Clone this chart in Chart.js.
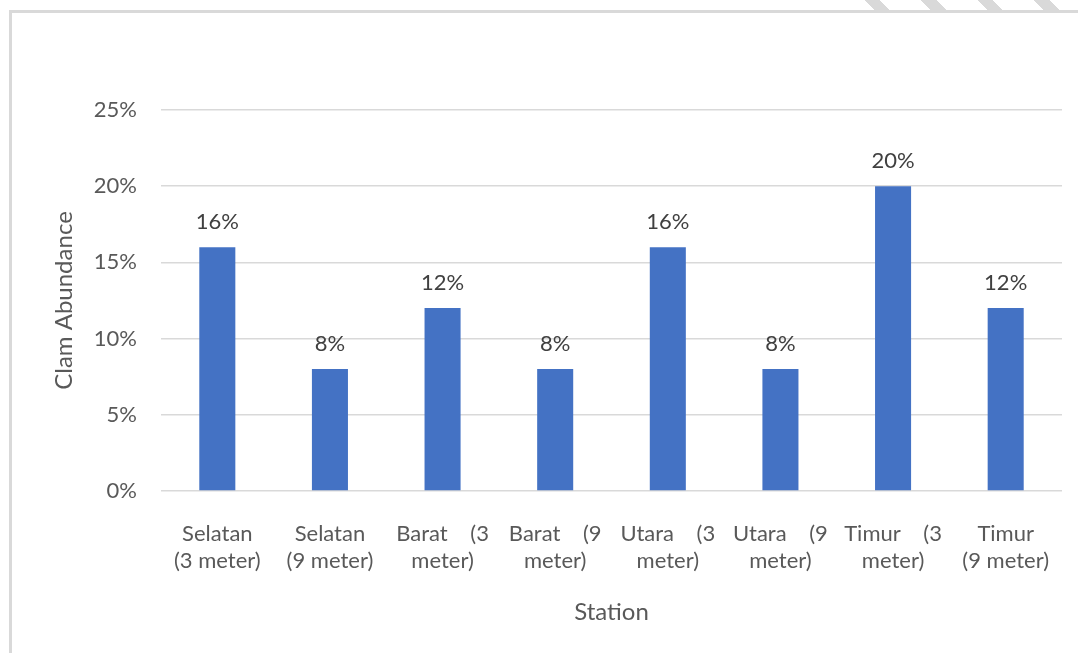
<!DOCTYPE html>
<html>
<head>
<meta charset="utf-8">
<title>Clam Abundance per Station</title>
<script src="https://cdn.jsdelivr.net/npm/chart.js@4"></script>
<style>
  html, body { margin: 0; padding: 0; background: #fff; }
  #wrap { position: relative; width: 1078px; height: 653px; overflow: hidden; }
  #frame { position: absolute; left: 9px; top: 10px; right: -5px; bottom: -5px;
           border-left: 3px solid #d9d9d9; border-top: 3px solid #d9d9d9; }
  #stripes { position: absolute; left: 860px; top: 0; width: 218px; height: 10px;
             background: repeating-linear-gradient(45deg, transparent 0 10px, #d9d9d9 10px 21px, transparent 21px 40px); }
  canvas { position: absolute; left: 0; top: 0; }
</style>
</head>
<body>
<div id="wrap">
  <div id="stripes"></div>
  <div id="frame"></div>
  <canvas id="myChart" width="1078" height="653"></canvas>
</div>
<script>
'use strict';

// station names, already split the way the original wraps them
let stations = [
  ['Selatan', '(3 meter)'],
  ['Selatan', '(9 meter)'],
  ['Barat (3', 'meter)'],
  ['Barat (9', 'meter)'],
  ['Utara (3', 'meter)'],
  ['Utara (9', 'meter)'],
  ['Timur (3', 'meter)'],
  ['Timur', '(9 meter)']
];
let abundance = [16, 8, 12, 8, 16, 8, 20, 12];
let yTicks = [0, 5, 10, 15, 20, 25];

let fontFamily = 'Lato, "Open Sans", sans-serif';
let tickFont = { family: fontFamily, size: 22 };
let titleFont = { family: fontFamily, size: 24 };

// stretch a multi word first line out to the column width (like justified text)
let measureCtx = document.createElement('canvas').getContext('2d');
function justify(line, width) {
  let words = line.split(' ');
  if (words.length < 2) return line;
  measureCtx.font = tickFont.size + 'px ' + fontFamily;
  let gap = ' ';
  while (measureCtx.measureText(words.join(gap + ' ')).width < width) {
    gap += ' ';
  }
  return words.join(gap);
}

// percent labels above each bar
let barLabels = {
  id: 'barLabels',
  afterDatasetsDraw(chart) {
    let ctx = chart.ctx;
    let meta = chart.getDatasetMeta(0);
    ctx.save();
    ctx.font = tickFont.size + 'px ' + fontFamily;
    ctx.fillStyle = '#404040';
    ctx.textAlign = 'center';
    ctx.textBaseline = 'alphabetic';
    meta.data.forEach(function (bar, i) {
      ctx.fillText(abundance[i] + '%', bar.x, bar.y - 18);
    });
    ctx.restore();
  }
};

const ctx = document.getElementById('myChart');

new Chart(ctx, {
  type: 'bar',
  data: {
    labels: stations,
    datasets: [
      {
        label: 'Clam Abundance',
        data: abundance,
        backgroundColor: '#4472c4',
        barPercentage: 0.32,
        categoryPercentage: 1
      }
    ]
  },
  options: {
    responsive: false,
    animation: false,
    layout: {
      padding: { left: 50, right: 16, top: 110, bottom: 26 }
    },
    plugins: {
      legend: { display: false },
      tooltip: { enabled: false }
    },
    scales: {
      x: {
        grid: { display: false },
        border: { display: false },
        ticks: {
          color: '#595959',
          font: tickFont,
          padding: 22,
          maxRotation: 0,
          autoSkip: false,
          callback: function (value, index) {
            let lines = stations[index];
            return [justify(lines[0], 98)].concat(lines.slice(1));
          }
        },
        title: {
          display: true,
          text: 'Station',
          color: '#595959',
          font: titleFont,
          padding: 0
        },
        afterFit: function (scale) { scale.height = 136; }
      },
      y: {
        min: 0,
        max: 25,
        afterBuildTicks: function (scale) {
          scale.ticks = yTicks.map(function (v) { return { value: v }; });
        },
        grid: { color: '#d9d9d9', lineWidth: 1.5, drawTicks: false },
        border: { display: false },
        ticks: {
          color: '#595959',
          font: tickFont,
          padding: 24,
          callback: function (value) { return value + '%'; }
        },
        title: {
          display: true,
          text: 'Clam Abundance',
          color: '#595959',
          font: titleFont,
          padding: 0
        },
        afterFit: function (scale) { scale.width = 111; }
      }
    }
  },
  plugins: [barLabels]
});
</script>
</body>
</html>
